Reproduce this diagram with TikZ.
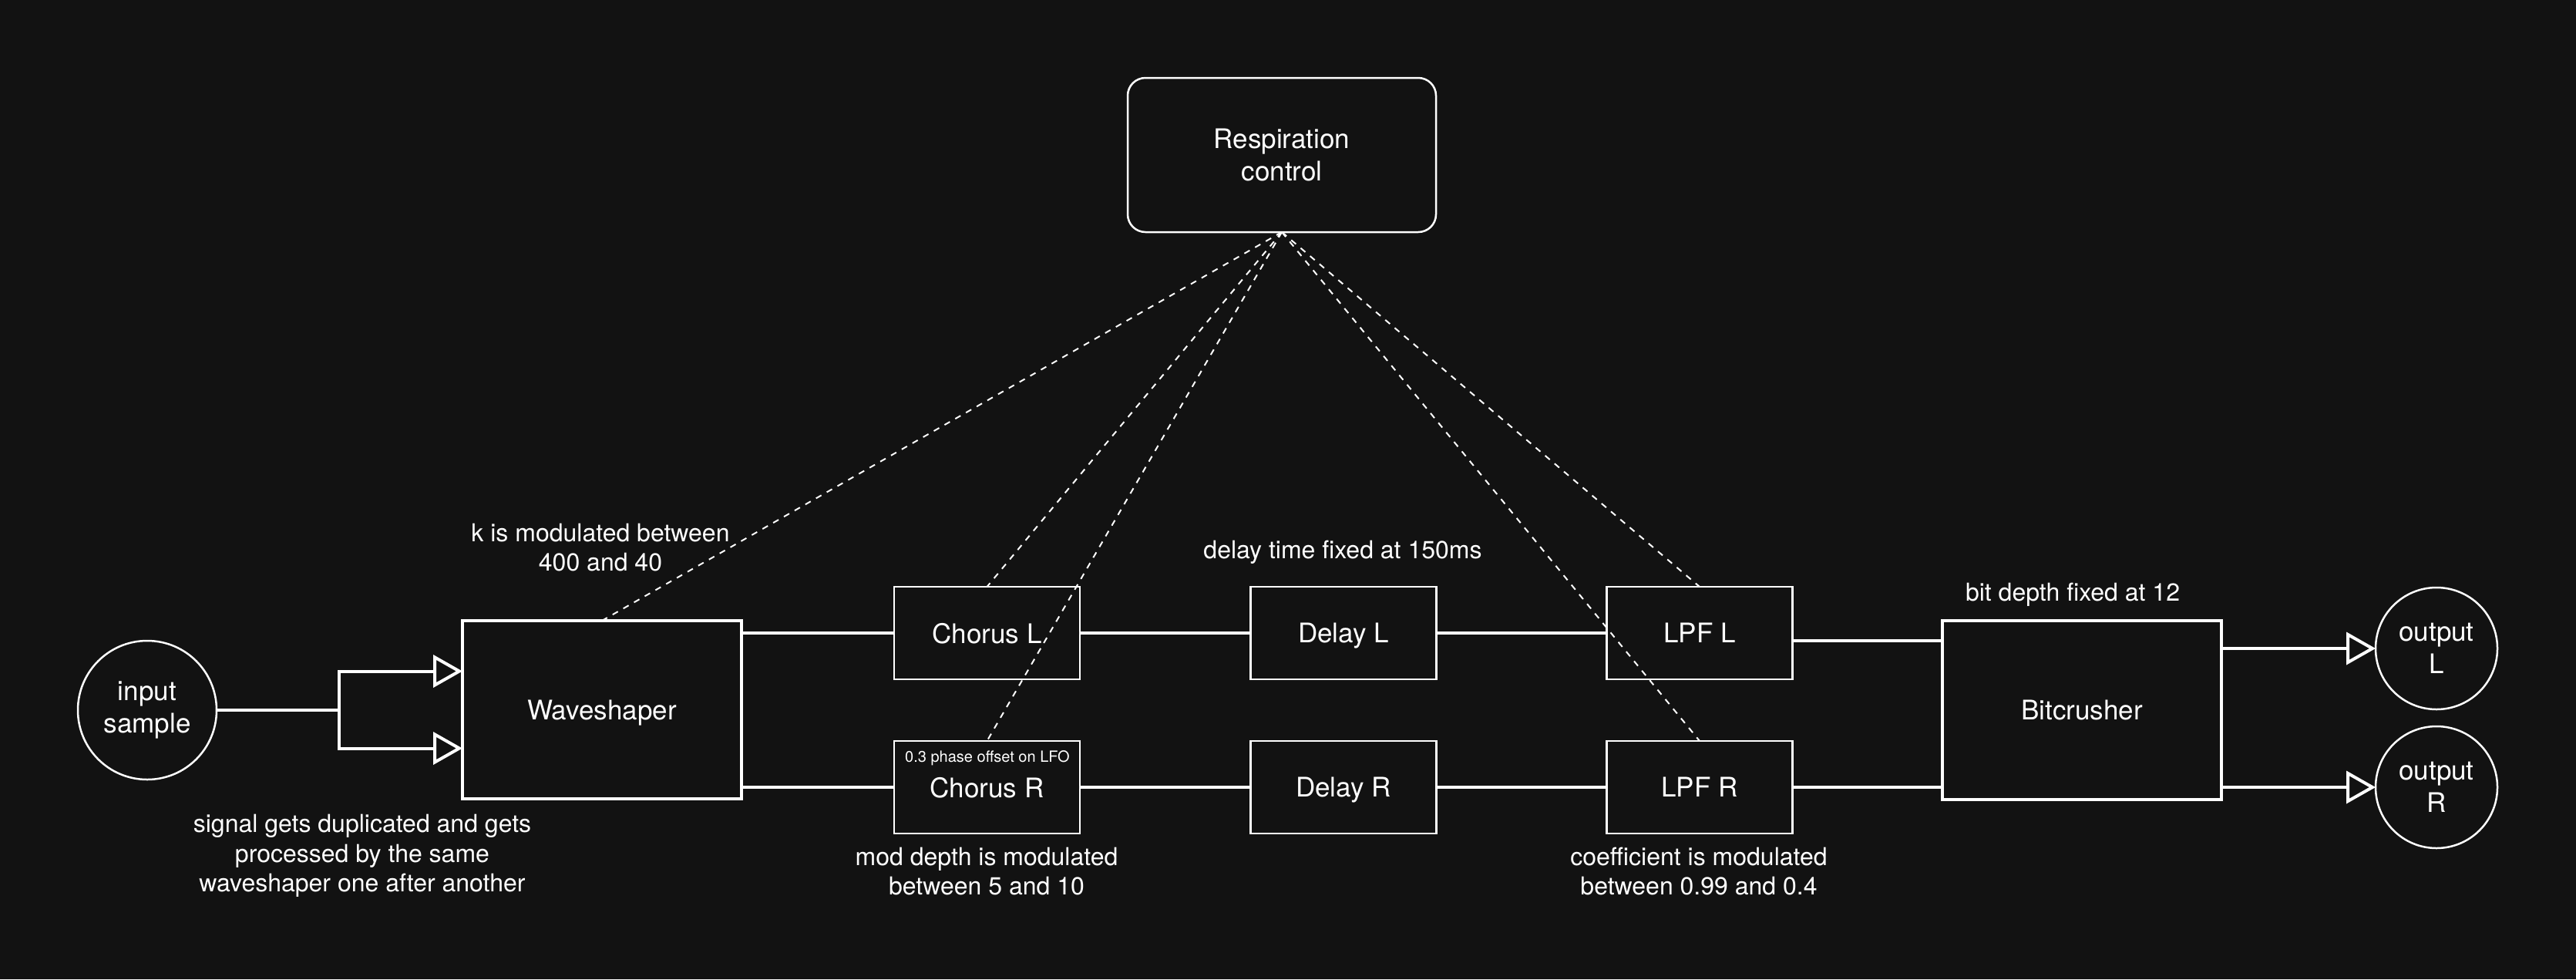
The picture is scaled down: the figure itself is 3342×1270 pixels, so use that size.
\documentclass[tikz,border=0pt]{standalone}
\usepackage{fontspec}
\setmainfont{TeX Gyre Heros}
\usetikzlibrary{arrows.meta}
\definecolor{bg}{RGB}{18,18,18}
\begin{document}
\begin{tikzpicture}[x=1pt,y=-1pt,
  every node/.style={text=white, inner sep=0pt, outer sep=0pt},
  mainfont/.style={font=\fontsize{35}{42}\selectfont},
  notefont/.style={font=\fontsize{32}{38.5}\selectfont},
  tinyfont/.style={font=\fontsize{20}{24}\selectfont},
  box/.style={draw=white, line width=2.5pt, minimum width=241pt, minimum height=120pt, mainfont, text depth=0pt},
  bigbox/.style={draw=white, line width=4pt, minimum width=362pt, minimum height=231pt, mainfont, text depth=0pt},
  endpt/.style={circle, draw=white, line width=2.5pt, mainfont, align=center},
  wire/.style={draw=white, line width=4pt},
  flow/.style={wire, -{Triangle[open, length=38pt, width=42pt]}},
  ctrl/.style={draw=white, line width=2pt, dash pattern=on 8pt off 8pt},
  note/.style={notefont, align=center}
]
\fill[bg] (0,0) rectangle (3342,1270);
\useasboundingbox (0,0) rectangle (3342,1270);

% nodes
\node[draw=white, line width=2.5pt, rounded corners=23pt, minimum width=400pt, minimum height=200pt, mainfont, align=center] (resp) at (1663,201) {Respiration\\control};
\node[endpt, minimum size=180pt] (in) at (191,921) {input\\sample};
\node[bigbox] (wave) at (781,920.5) {Waveshaper};
\node[box] (cl) at (1280.5,821) {Chorus L};
\node[box] (cr) at (1280.5,1021) {Chorus R};
\node[tinyfont] (cnote) at (1281,983) {0.3 phase offset on LFO};
\node[box] (dl) at (1743,821) {Delay L};
\node[box] (dr) at (1743,1021) {Delay R};
\node[box] (ll) at (2205,821) {LPF L};
\node[box] (lr) at (2205,1021) {LPF R};
\node[bigbox, minimum height=232pt] (bit) at (2701,921) {Bitcrusher};
\node[endpt, minimum size=158pt] (outl) at (3161,841) {output\\L};
\node[endpt, minimum size=158pt] (outr) at (3161,1021) {output\\R};

% annotations
\node[note] (knote) at (779,710) {k is modulated between\\400 and 40};
\node[note] (dnote) at (1742,716) {delay time fixed at 150ms};
\node[note] (bnote) at (2689,771) {bit depth fixed at 12};
\node[note] (snote) at (470,1110) {signal gets duplicated and gets\\processed  by the same\\waveshaper one after another};
\node[note] (mnote) at (1280,1130) {mod depth is modulated\\between 5 and 10};
\node[note] (fnote) at (2204,1130) {coefficient is modulated\\between 0.99 and 0.4};

% input fork
\coordinate (fork) at (440,921);
\draw[wire] (in.east) -- (fork);
\draw[flow] (fork) |- ([yshift=50pt]wave.west);
\draw[flow] (fork) |- ([yshift=-50pt]wave.west);

% signal chain
\draw[wire] (wave.east |- cl) -- (cl.west);
\draw[wire] (wave.east |- cr) -- (cr.west);
\draw[wire] (cl) -- (dl);
\draw[wire] (cr) -- (dr);
\draw[wire] (dl) -- (ll);
\draw[wire] (dr) -- (lr);
\draw[wire] ([yshift=-10pt]ll.east) -- ([yshift=-10pt]ll.east -| bit.west);
\draw[wire] (lr.east) -- (lr.east -| bit.west);
\draw[flow] (bit.east |- outl) -- (outl.west);
\draw[flow] (bit.east |- outr) -- (outr.west);

% control lines
\draw[ctrl] (resp.south) -- (wave.north);
\draw[ctrl] (resp.south) -- (cl.north);
\draw[ctrl] (resp.south) -- (cr.north);
\draw[ctrl] (resp.south) -- (ll.north);
\draw[ctrl] (resp.south) -- (lr.north);
\end{tikzpicture}
\end{document}
